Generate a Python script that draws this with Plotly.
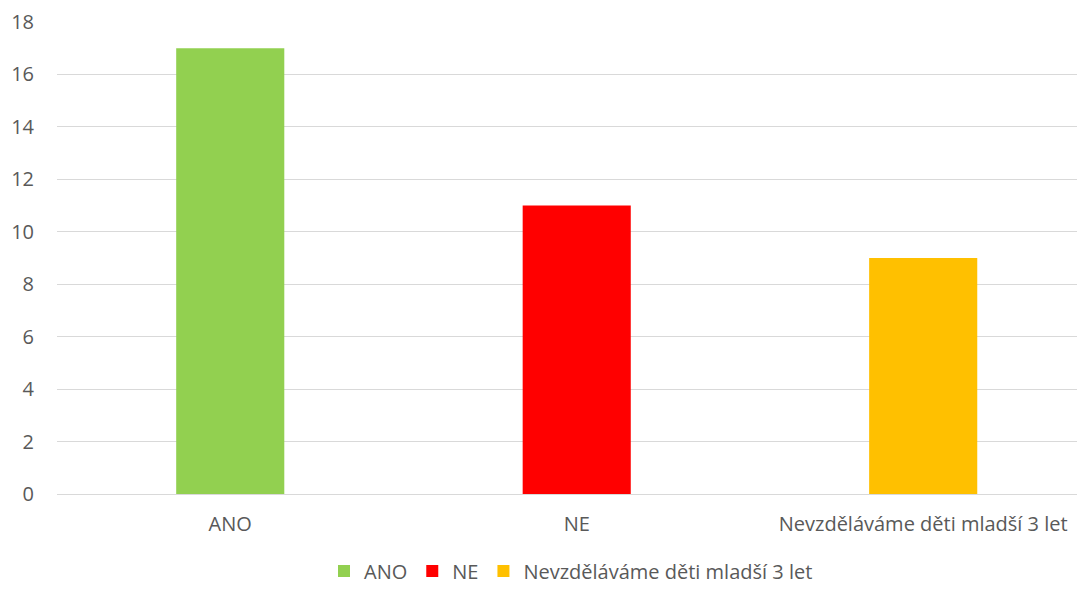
import plotly.graph_objects as go

categories = ["ANO", "NE", "Nevzděláváme děti mladší 3 let"]
values = [17, 11, 9]
colors = ["#92D050", "#FF0000", "#FFC000"]

fig = go.Figure()
for cat, val, col in zip(categories, values, colors):
    fig.add_trace(go.Bar(x=[cat], y=[val], name=cat, marker_color=col,
                         marker_line_width=0, width=0.312))

font = dict(family="Open Sans", size=20, color="#595959")
# page body has an 8px default margin; figure sized so the plot area lands where the reference has it
fig.update_layout(
    width=1077, height=581,
    margin=dict(l=49, r=0, t=14, b=95, autoexpand=False),
    paper_bgcolor="white", plot_bgcolor="white",
    barmode="overlay",
    font=font,
    showlegend=True,
    legend=dict(orientation="h", x=0.5, xanchor="center", y=-0.163, yanchor="middle",
                font=font, itemwidth=30, traceorder="normal"),
    xaxis=dict(type="category", range=[-0.5, 2.467], showgrid=False, showline=False,
               ticks="", tickfont=font, categoryorder="array", categoryarray=categories,
               automargin=False, ticklabelstandoff=16),
    yaxis=dict(range=[0, 18], dtick=2, showgrid=True, gridcolor="#D9D9D9", gridwidth=1,
               zeroline=True, zerolinecolor="#D9D9D9", zerolinewidth=1,
               showline=False, ticks="", tickfont=font, ticklabelstandoff=22,
               automargin=False),
)
fig.write_html("out.html")
